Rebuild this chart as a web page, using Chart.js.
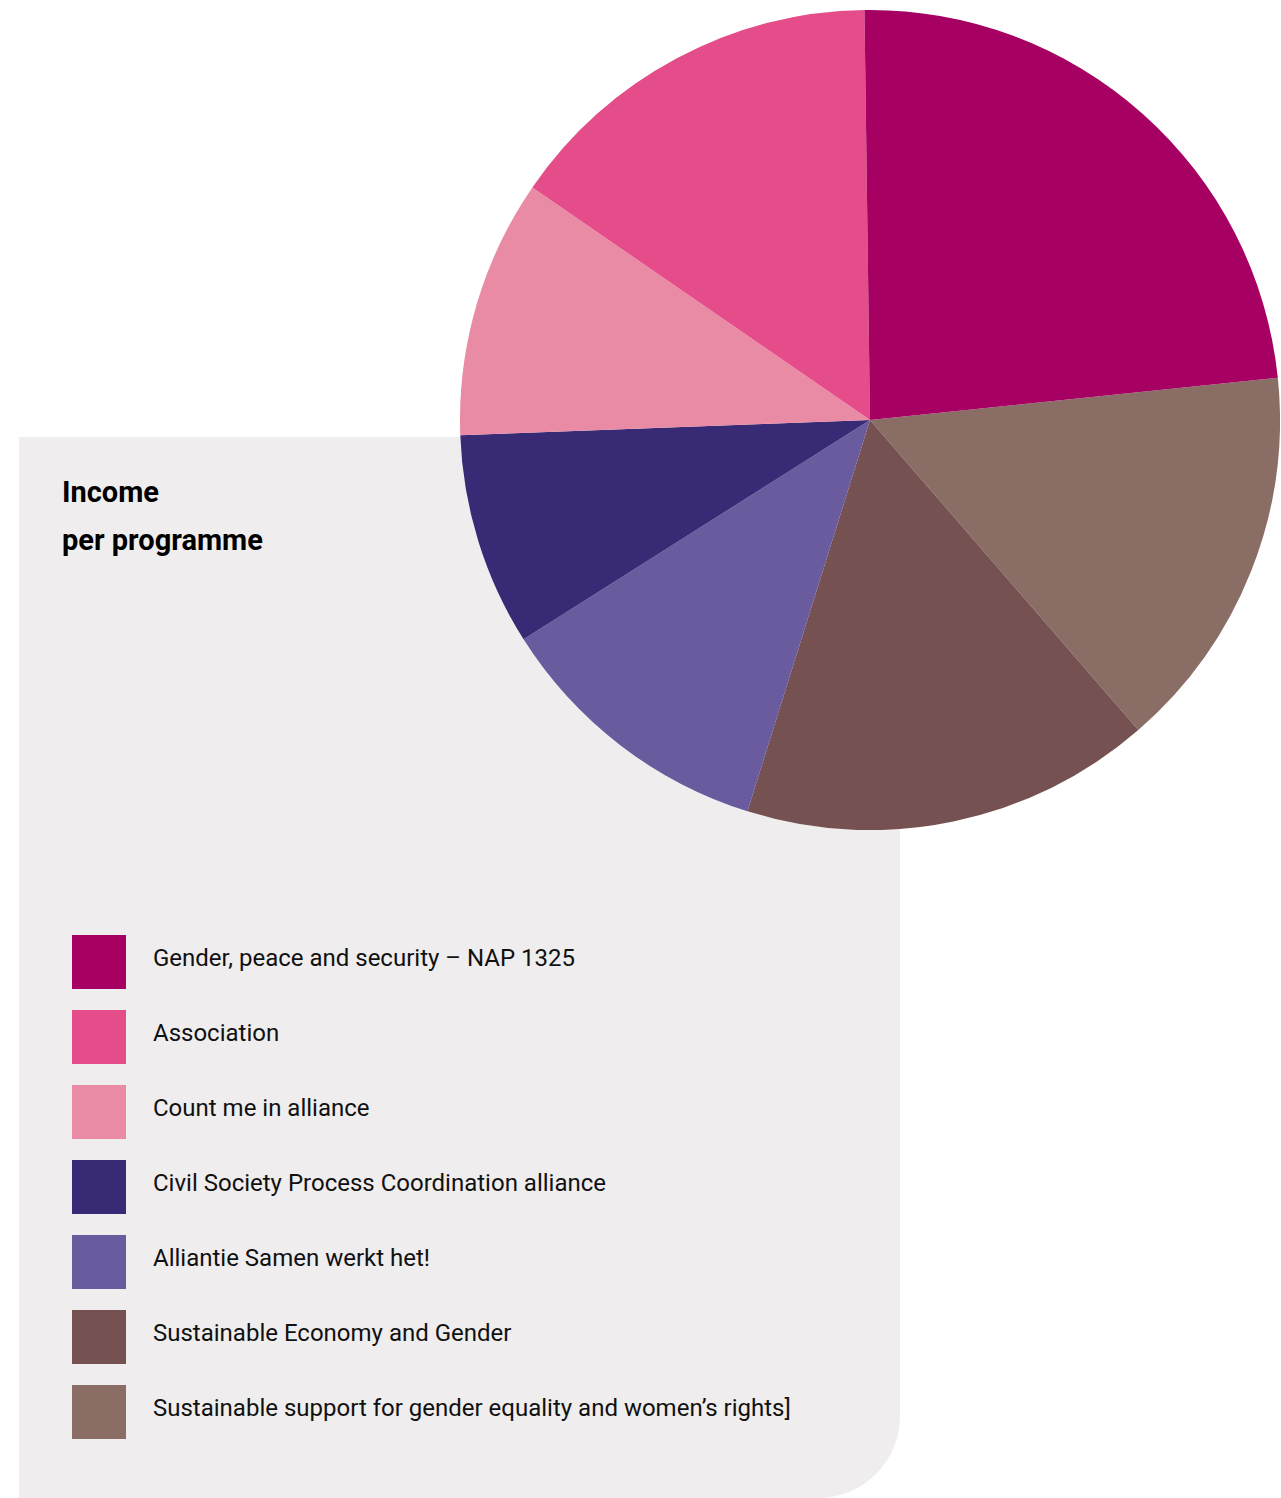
<!DOCTYPE html>
<html>
<head>
<meta charset="utf-8">
<script src="https://cdn.jsdelivr.net/npm/chart.js@4.4.0/dist/chart.umd.min.js"></script>
<style>
    html, body { margin: 0; padding: 0; background: #ffffff; }
    body { width: 1281px; height: 1498px; position: relative; overflow: hidden; font-family: Roboto, "Noto Sans", sans-serif; }
    #panel {
        position: absolute; left: 19px; top: 437px; width: 881px; height: 1061px;
        background: #efedee; border-bottom-right-radius: 82px;
    }
    #title { position: absolute; left: 62px; top: 468px; font-weight: 700; font-size: 29px; line-height: 48px; color: #000; }
    #chartBox { position: absolute; left: 460px; top: 10px; width: 820px; height: 820px; }
    #legend { position: absolute; left: 72px; top: 935px; margin: 0; padding: 0; list-style: none; }
    #legend li { display: flex; align-items: center; height: 54px; margin-bottom: 21px; }
    #legend .box { width: 54px; height: 54px; flex: none; }
    #legend .txt { margin-left: 27px; font-size: 24px; color: #111; position: relative; top: -4px; }
</style>
</head>
<body>
<div id="panel"></div>
<div id="title">Income<br>per programme</div>
<div id="chartBox"><canvas id="incomeChart"></canvas></div>
<ul id="legend"></ul>
<script>
// programmes in legend order
const programmes = [
    'Gender, peace and security – NAP 1325',
    'Association',
    'Count me in alliance',
    'Civil Society Process Coordination alliance',
    'Alliantie Samen werkt het!',
    'Sustainable Economy and Gender',
    'Sustainable support for gender equality and women’s rights]'
];
// share of income (%)
const shares = [23.6, 15.2, 10.2, 8.4, 11.2, 16.2, 15.3];
const colours = ['#a50062', '#e44c8a', '#ea8ba6', '#382a75', '#6a5a9e', '#765151', '#8a6e65'];

// legend list
const legend = document.getElementById('legend');
programmes.forEach((name, i) => {
    const li = document.createElement('li');
    li.innerHTML = `<span class="box" style="background:${colours[i]}"></span><span class="txt">${name}</span>`;
    legend.appendChild(li);
});

// the pie runs counter-clockwise in legend order, so feed it reversed
const order = programmes.map((_, i) => i).reverse();

new Chart(document.getElementById('incomeChart'), {
    type: 'pie',
    data: {
        labels: order.map(i => programmes[i]),
        datasets: [{
            data: order.map(i => shares[i]),
            backgroundColor: order.map(i => colours[i]),
            borderWidth: 0
        }]
    },
    options: {
        responsive: true,
        maintainAspectRatio: false,
        animation: false,
        rotation: 84.1, // Gender slice ends just under the 3 o'clock line
        layout: { padding: 0 },
        plugins: {
            legend: { display: false },
            tooltip: { enabled: false }
        }
    }
});
</script>
</body>
</html>
